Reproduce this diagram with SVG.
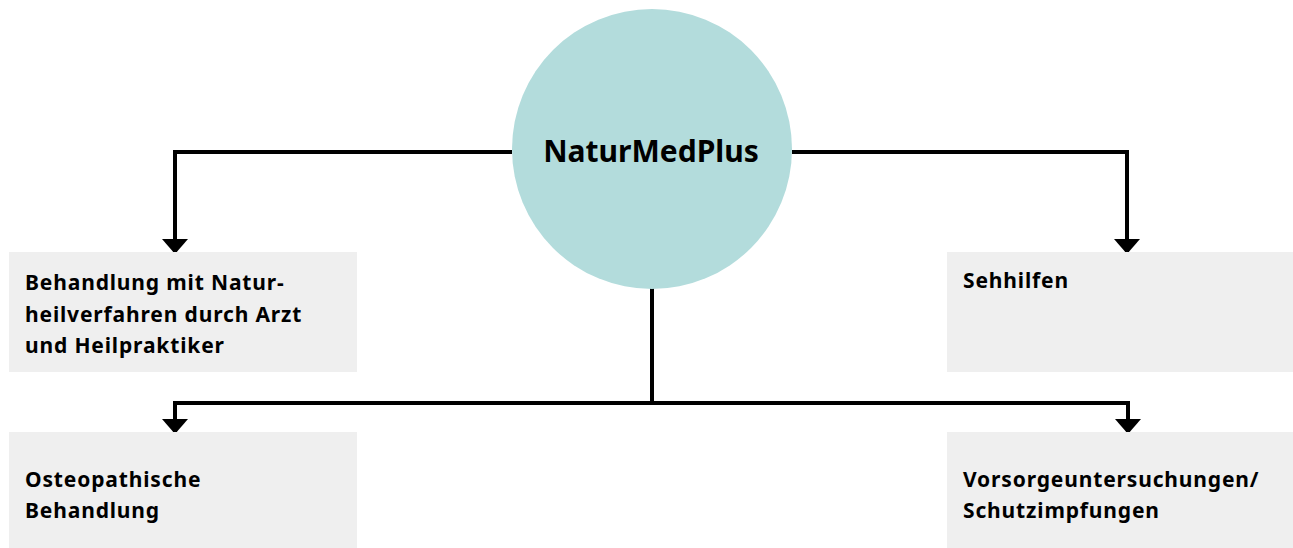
<svg xmlns="http://www.w3.org/2000/svg" width="1293" height="548" viewBox="0 0 1293 548">
<defs>
<style>
.box{fill:#efefef}
.lbl{font-family:"Noto Sans","Liberation Sans",Arial,sans-serif;font-weight:bold;font-size:21px;letter-spacing:0.85px;fill:#000}
.title{font-family:"Noto Sans","Liberation Sans",Arial,sans-serif;font-weight:bold;font-size:30px;fill:#000}
.con{fill:none;stroke:#000;stroke-width:4}
</style>
<marker id="ah" viewBox="0 0 15 26" refX="14" refY="13" markerWidth="15" markerHeight="26" markerUnits="userSpaceOnUse" orient="auto">
<path d="M0,0 L15,13 L0,26 Z" fill="#000"/>
</marker>
</defs>
<rect width="1293" height="548" fill="#fff"/>
<g id="connectors">
<path class="con" d="M512,152 H175 V253" marker-end="url(#ah)"/>
<path class="con" d="M792,152 H1127 V253" marker-end="url(#ah)"/>
<path class="con" d="M652,288 V403"/>
<path class="con" d="M652,403 H175 V433" marker-end="url(#ah)"/>
<path class="con" d="M652,403 H1128 V433" marker-end="url(#ah)"/>
</g>
<g id="center">
<circle cx="652" cy="149" r="140" fill="#b3dcdc"/>
<text class="title" x="651" y="162" text-anchor="middle">NaturMedPlus</text>
</g>
<g id="node-behandlung">
<rect class="box" x="9" y="252" width="348" height="120"/>
<text class="lbl" x="25" y="290">Behandlung mit Natur-</text>
<text class="lbl" x="25" y="322">heilverfahren durch Arzt</text>
<text class="lbl" x="25" y="353">und Heilpraktiker</text>
</g>
<g id="node-sehhilfen">
<rect class="box" x="947" y="252" width="346" height="120"/>
<text class="lbl" x="963" y="288">Sehhilfen</text>
</g>
<g id="node-osteo">
<rect class="box" x="9" y="432" width="348" height="116"/>
<text class="lbl" x="25" y="487">Osteopathische</text>
<text class="lbl" x="25" y="518">Behandlung</text>
</g>
<g id="node-vorsorge">
<rect class="box" x="947" y="432" width="346" height="116"/>
<text class="lbl" x="963" y="487">Vorsorgeuntersuchungen/</text>
<text class="lbl" x="963" y="518">Schutzimpfungen</text>
</g>
</svg>
